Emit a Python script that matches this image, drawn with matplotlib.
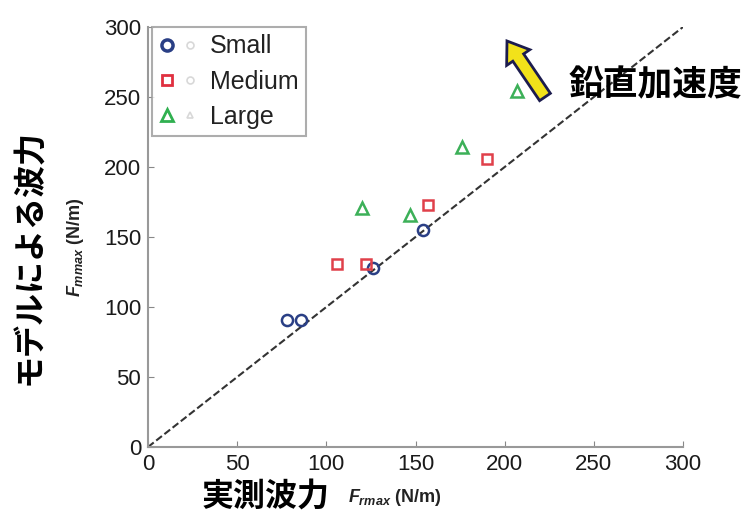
import matplotlib
matplotlib.use('Agg')
import matplotlib.pyplot as plt
from matplotlib.lines import Line2D
from matplotlib.legend_handler import HandlerTuple
from matplotlib.patches import FancyArrow
from matplotlib.transforms import IdentityTransform

plt.rcParams['font.family'] = ['Liberation Sans', 'DejaVu Sans']
plt.rcParams['mathtext.fontset'] = 'custom'
plt.rcParams['mathtext.it'] = 'Liberation Sans:italic:bold'
plt.rcParams['mathtext.rm'] = 'Liberation Sans:bold'

# measured peak wave force vs model wave force (N/m)
small_x = [78, 86, 126, 154]
small_y = [91, 91, 128, 155]
medium_x = [106, 122, 157, 190]
medium_y = [131, 131, 173, 206]
large_x = [120, 147, 176, 207]
large_y = [171, 166, 214, 254]
ticks = [0, 50, 100, 150, 200, 250, 300]

fig = plt.figure(figsize=(7.49, 5.17), dpi=100)
ax = fig.add_axes([148 / 749, 70 / 517, 535 / 749, 420 / 517])

ax.plot([0, 300], [0, 300], ls=(0, (3.5, 1.5)), color='#333333', lw=1.5, zorder=1)

ms = 8
ax.plot(small_x, small_y, 'o', mfc='none', mec='#2a3f85', mew=1.8, ms=ms)
ax.plot(medium_x, medium_y, 's', mfc='none', mec='#e0404a', mew=1.8, ms=ms - 1)
ax.plot(large_x, large_y, '^', mfc='none', mec='#3cb058', mew=1.8, ms=ms + 1)

ax.set_xlim(0, 300)
ax.set_ylim(0, 300)
ax.set_xticks(ticks)
ax.set_yticks(ticks)
ax.tick_params(direction='in', length=4, color='#888888', labelsize=16,
               labelcolor='#1a1a1a', pad=5)
for s in ['top', 'right']:
    ax.spines[s].set_visible(False)
for s in ['left', 'bottom']:
    ax.spines[s].set_color('#999999')
    ax.spines[s].set_linewidth(1.5)

# legend: bold marker followed by a faint grey copy
def ghost(marker):
    return Line2D([], [], ls='none', marker=marker, ms=5, mfc='none',
                  mec='#d8d8d8', mew=1.2)

handles = [
    (Line2D([], [], ls='none', marker='o', mfc='none', mec='#2a3f85', mew=2.5, ms=8), ghost('o')),
    (Line2D([], [], ls='none', marker='s', mfc='none', mec='#e03040', mew=2, ms=7), ghost('o')),
    (Line2D([], [], ls='none', marker='^', mfc='none', mec='#30b050', mew=2, ms=9), ghost('^')),
]
leg = ax.legend(handles, ['Small', 'Medium', 'Large'],
                handler_map={tuple: HandlerTuple(ndivide=None, pad=0.3)},
                loc='upper left', bbox_to_anchor=(0.008, 1.0), borderaxespad=0,
                fontsize=18, frameon=True, fancybox=False, edgecolor='#999999',
                handlelength=1.5, handletextpad=0.5, borderpad=0.3,
                labelspacing=0.45)
leg.get_frame().set_linewidth(1.5)
for t in leg.get_texts():
    t.set_color('#222222')

jp = ['Noto Sans CJK JP', 'DejaVu Sans']

# axis titles
fig.text(30 / 749, 1 - 257 / 517, 'モデルによる波力', rotation=90, family=jp,
         fontweight='bold', fontsize=23, ha='center', va='center')
fig.text(75 / 749, 1 - 247 / 517, r'$\mathit{F}_{\mathit{mmax}}$ (N/m)', rotation=90,
         fontsize=13, fontweight='bold', ha='center', va='center', color='#222222')
fig.text(266 / 749, 1 - 497 / 517, '実測波力', family=jp, fontweight='bold',
         fontsize=23, ha='center', va='center')
fig.text(395 / 749, 1 - 497 / 517, r'$\mathit{F}_{\mathit{rmax}}$ (N/m)',
         fontsize=13, fontweight='bold', ha='center', va='center', color='#222222')

# vertical acceleration arrow
arr = FancyArrow(545, 517 - 97, -38, 56, width=13, head_width=28, head_length=20,
                 length_includes_head=True, fc='#f2e21a', ec='#1c1c4e', lw=2,
                 transform=IdentityTransform())
fig.add_artist(arr)
arr.set_transform(IdentityTransform())
fig.text(655 / 749, 1 - 85 / 517, '鉛直加速度', family=jp, fontweight='bold',
         fontsize=25, ha='center', va='center')

fig.savefig('out.png', dpi=100)
